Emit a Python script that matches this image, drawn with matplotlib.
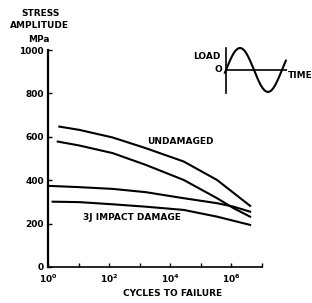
import numpy as np
import matplotlib
matplotlib.use("Agg")
import matplotlib.pyplot as plt

# Data (log10 cycles, stress MPa)
und_hi_logN = [0.37, 1.02, 2.11, 3.19, 4.44, 5.53, 6.61]
und_hi_S = [647, 632, 597, 548, 486, 401, 282]
und_lo_logN = [0.32, 1.02, 2.11, 3.19, 4.44, 5.53, 6.07, 6.61]
und_lo_S = [578, 560, 525, 471, 401, 317, 271, 232]
dam_hi_logN = [0.0, 1.02, 2.11, 3.19, 4.44, 5.53, 6.07, 6.61]
dam_hi_S = [374, 368, 360, 345, 317, 294, 278, 255]
dam_lo_logN = [0.15, 1.02, 2.11, 3.19, 4.44, 5.53, 6.61]
dam_lo_S = [301, 299, 289, 278, 263, 232, 194]

y_ticks = [0, 200, 400, 600, 800, 1000]
x_ticks_exp = [0, 1, 2, 3, 4, 5, 6, 7]
x_label_exp = [0, 2, 4, 6]

W, H = 312, 303
fig = plt.figure(figsize=(W / 100, H / 100), dpi=100)

def fx(x):
    return x / W

def fy(y):
    return 1 - y / H

FS = 6.5
plt.rcParams['font.family'] = ['DejaVu Sans']

ax = fig.add_axes([fx(48), fy(267), fx(262) - fx(48), fy(50) - fy(267)])
lw = 1.5
for lx, s in [(und_hi_logN, und_hi_S), (und_lo_logN, und_lo_S),
              (dam_hi_logN, dam_hi_S), (dam_lo_logN, dam_lo_S)]:
    ax.plot(10 ** np.array(lx), s, color='black', lw=lw, clip_on=False,
            solid_joinstyle='round')

ax.set_xscale('log')
ax.set_xlim(1, 1e7)
ax.set_ylim(0, 1000)
for sp in ['top', 'right']:
    ax.spines[sp].set_visible(False)
ax.spines['left'].set_linewidth(1.6)
ax.spines['bottom'].set_linewidth(1.2)
ax.set_yticks(y_ticks)
ax.set_yticklabels([str(v) for v in y_ticks], fontsize=FS, fontweight='bold')
ax.set_xticks([10.0 ** e for e in x_ticks_exp])
ax.set_xticklabels([f'$\\mathbf{{10^{{{e}}}}}$' if e in x_label_exp else '' for e in x_ticks_exp],
                   fontsize=FS)
ax.xaxis.set_minor_locator(matplotlib.ticker.NullLocator())
ax.tick_params(axis='both', direction='in', length=3, width=1, pad=3)
ax.tick_params(axis='x', pad=4)

fig.text(fx(41), fy(13), 'STRESS', ha='center', va='center', fontsize=FS, fontweight='bold')
fig.text(fx(39), fy(26), 'AMPLITUDE', ha='center', va='center', fontsize=FS, fontweight='bold')
fig.text(fx(39), fy(39), 'MPa', ha='center', va='center', fontsize=FS, fontweight='bold')
fig.text(fx(180), fy(142), 'UNDAMAGED', ha='center', va='center', fontsize=FS, fontweight='bold')
fig.text(fx(132), fy(218), '3J IMPACT DAMAGE', ha='center', va='center', fontsize=FS, fontweight='bold')
fig.text(fx(173), fy(293), 'CYCLES TO FAILURE', ha='center', va='center', fontsize=FS, fontweight='bold')

# inset load-time sketch
iax = fig.add_axes([fx(226), fy(93), fx(287) - fx(226), fy(48) - fy(93)])
iax.set_xlim(0, 1.09)
iax.set_ylim(-1.05, 1.0)
t = np.linspace(-0.02, 1.07, 200)
iax.plot(t, np.sin(2 * np.pi * t), color='black', lw=1.5, clip_on=False)
iax.axhline(0, color='black', lw=1.2)
for sp in ['top', 'right', 'bottom']:
    iax.spines[sp].set_visible(False)
iax.spines['left'].set_linewidth(1.2)
iax.set_xticks([])
iax.set_yticks([])
iax.patch.set_alpha(0)
fig.text(fx(207), fy(57), 'LOAD', ha='center', va='center', fontsize=FS, fontweight='bold')
fig.text(fx(218), fy(70), 'O', ha='center', va='center', fontsize=FS, fontweight='bold')
fig.text(fx(300), fy(76), 'TIME', ha='center', va='center', fontsize=FS, fontweight='bold')

fig.savefig('out.png', dpi=100)
